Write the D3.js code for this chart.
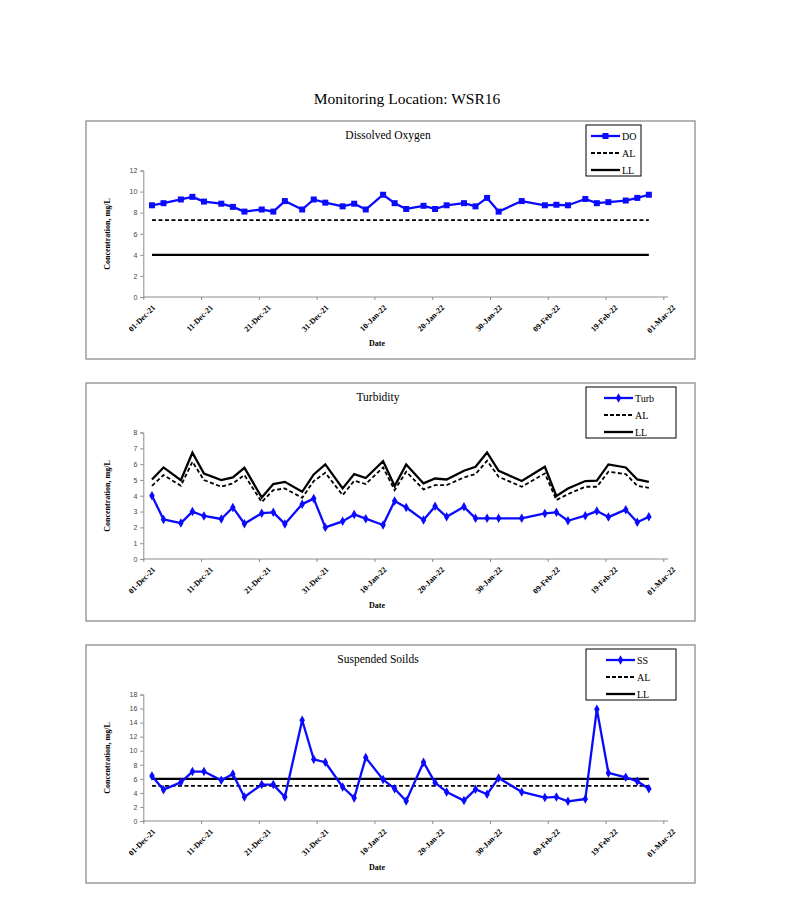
<!DOCTYPE html>
<html>
<head>
<meta charset="utf-8">
<script src="https://cdn.jsdelivr.net/npm/d3@7"></script>
<style>
  body { margin: 0; background: #fff; }
  svg { display: block; }
</style>
</head>
<body>
<svg id="chart" width="794" height="906"></svg>
<script>
// sampling dates (Tue/Thu/Sat schedule)
var dates = ["2021-12-02","2021-12-04","2021-12-07","2021-12-09","2021-12-11","2021-12-14","2021-12-16",
  "2021-12-18","2021-12-21","2021-12-23","2021-12-25","2021-12-28","2021-12-30","2022-01-01",
  "2022-01-04","2022-01-06","2022-01-08","2022-01-11","2022-01-13","2022-01-15","2022-01-18",
  "2022-01-20","2022-01-22","2022-01-25","2022-01-27","2022-01-29","2022-01-31","2022-02-04",
  "2022-02-08","2022-02-10","2022-02-12","2022-02-15","2022-02-17","2022-02-19","2022-02-22",
  "2022-02-24","2022-02-26"];

var doValues = [8.7,8.9,9.25,9.5,9.05,8.85,8.55,8.1,8.3,8.1,9.1,8.3,9.25,8.95,8.6,8.85,8.3,9.7,8.9,
  8.35,8.65,8.35,8.7,8.9,8.6,9.4,8.1,9.1,8.7,8.75,8.7,9.3,8.9,9.0,9.15,9.4,9.7];
var doAL = 7.3;
var doLL = 4;

var turbValues = [4.0,2.5,2.27,3.0,2.72,2.53,3.26,2.23,2.9,2.95,2.22,3.47,3.82,2.0,2.38,2.82,2.55,2.15,3.67,
  3.26,2.46,3.33,2.67,3.3,2.57,2.57,2.57,2.57,2.88,2.95,2.42,2.74,3.03,2.65,3.12,2.32,2.67];
var turbAL = [4.63,5.31,4.63,6.15,4.99,4.57,4.78,5.31,3.6,4.36,4.46,3.87,4.93,5.45,4.04,4.95,4.74,5.79,4.36,
  5.52,4.4,4.67,4.67,5.16,5.37,6.21,5.2,4.57,5.41,3.73,4.1,4.57,4.57,5.52,5.37,4.63,4.5];
var turbLL = [5.03,5.79,4.99,6.72,5.41,4.99,5.16,5.77,3.89,4.74,4.88,4.25,5.35,5.98,4.46,5.37,5.12,6.19,4.61,
  5.98,4.78,5.09,5.03,5.58,5.83,6.74,5.58,4.93,5.83,3.98,4.46,4.93,4.95,5.98,5.79,5.03,4.88];

var ssValues = [6.4,4.46,5.5,7.03,7.03,5.8,6.7,3.42,5.18,5.18,3.42,14.34,8.78,8.36,4.84,3.28,9.02,5.89,4.6,
  2.85,8.36,5.46,4.13,2.9,4.51,3.8,6.13,4.13,3.33,3.42,2.8,3.13,15.9,6.84,6.22,5.65,4.6];
var ssAL = 5;
var ssLL = 6;

var yTicksDO = [0,2,4,6,8,10,12];
var yTicksTurb = [0,1,2,3,4,5,6,7,8];
var yTicksSS = [0,2,4,6,8,10,12,14,16,18];
var xTickDates = ["2021-12-01","2021-12-11","2021-12-21","2021-12-31","2022-01-10","2022-01-20",
  "2022-01-30","2022-02-09","2022-02-19","2022-03-01"];

var parse = d3.utcParse("%Y-%m-%d");
var fmt = d3.utcFormat("%d-%b-%y");
var svg = d3.select("#chart");
var BLUE = "#0a0aff";
var SERIF = "'Liberation Serif', 'DejaVu Serif', 'Times New Roman', serif";
var SANS = "'Liberation Sans', Arial, sans-serif";

svg.append("text")
  .attr("x", 407).attr("y", 104)
  .attr("text-anchor", "middle")
  .style("font-family", SERIF).style("font-size", "15.5px")
  .text("Monitoring Location: WSR16");

var x = d3.scaleUtc()
  .domain([parse("2021-12-01"), parse("2022-03-01")])
  .range([143.3, 663.3]);
// points sit at mid-day, like Excel's date axis
var px = function (d) { return x(d3.utcHour.offset(parse(d), 12)); };

function drawChart(top, title, titleX, name, marker, values, al, ll, yMax, yTicks, legendW, sampleX0) {
  var g = svg.append("g");
  var y = d3.scaleLinear().domain([0, yMax]).range([top + 176, top + 49.5]);

  g.append("rect")
    .attr("x", 86).attr("y", top).attr("width", 609).attr("height", 238)
    .attr("fill", "none").attr("stroke", "#8c8c8c").attr("stroke-width", 1.3);

  g.append("text")
    .attr("x", titleX).attr("y", top + 18)
    .attr("text-anchor", "middle")
    .style("font-family", SERIF).style("font-size", "11.5px")
    .text(title);

  // y axis
  var ya = g.append("g")
    .attr("transform", "translate(143.3,0)")
    .call(d3.axisLeft(y).tickValues(yTicks).tickSize(3).tickPadding(3));
  ya.select(".domain").attr("stroke", "#8c8c8c");
  ya.selectAll(".tick line").attr("stroke", "#8c8c8c");
  ya.selectAll(".tick text")
    .style("font-family", SANS).style("font-size", "7px").attr("fill", "#444");

  // x axis
  var xa = g.append("g")
    .attr("transform", "translate(0," + (top + 176) + ")")
    .call(d3.axisBottom(x).tickValues(xTickDates.map(parse)).tickFormat(fmt).tickSize(3).tickSizeOuter(0));
  xa.select(".domain").attr("stroke", "#8c8c8c").attr("d", "M143.3,0H668");
  xa.selectAll(".tick line").attr("stroke", "#8c8c8c");
  xa.selectAll(".tick text")
    .attr("text-anchor", "end")
    .attr("transform", "translate(5,4) rotate(-45)")
    .attr("dy", "0.5em")
    .style("font-family", SERIF).style("font-size", "8px").style("font-weight", "bold")
    .attr("fill", "#000");

  g.append("text")
    .attr("transform", "translate(110," + (top + 113) + ") rotate(-90)")
    .attr("text-anchor", "middle")
    .style("font-family", SERIF).style("font-size", "8px").style("font-weight", "bold")
    .text("Concentration, mg/L");

  g.append("text")
    .attr("x", 377).attr("y", top + 225)
    .attr("text-anchor", "middle")
    .style("font-family", SERIF).style("font-size", "8px").style("font-weight", "bold")
    .text("Date");

  var alArr = Array.isArray(al) ? al : dates.map(function () { return al; });
  var llArr = Array.isArray(ll) ? ll : dates.map(function () { return ll; });
  var line = function (arr) {
    return d3.line().x(function (d, i) { return px(dates[i]); }).y(function (d) { return y(d); })(arr);
  };

  g.append("path").attr("d", line(llArr)).attr("fill", "none").attr("stroke", "#000").attr("stroke-width", 2.3);
  g.append("path").attr("d", line(alArr)).attr("fill", "none").attr("stroke", "#000")
    .attr("stroke-width", 1.8).attr("stroke-dasharray", "4,2.5");
  g.append("path").attr("d", line(values)).attr("fill", "none").attr("stroke", BLUE)
    .attr("stroke-width", 2.3).attr("stroke-linejoin", "round");

  var sym = marker === "square" ? d3.symbol(d3.symbolSquare, 36) : d3.symbol(d3.symbolDiamond, 26);
  g.selectAll(".pt").data(values).enter().append("path")
    .attr("d", sym)
    .attr("transform", function (d, i) { return "translate(" + px(dates[i]) + "," + y(d) + ")"; })
    .attr("fill", BLUE);

  // legend
  var lx = 586, ly = top + 4;
  g.append("rect").attr("x", lx).attr("y", ly).attr("width", legendW).attr("height", 51)
    .attr("fill", "#fff").attr("stroke", "#000").attr("stroke-width", 1);
  var items = [{ t: name, dash: null, c: BLUE, w: 2.3 }, { t: "AL", dash: "4,2", c: "#000", w: 1.8 }, { t: "LL", dash: null, c: "#000", w: 2.3 }];
  items.forEach(function (it, i) {
    var yy = ly + 11 + i * 17;
    g.append("line").attr("x1", sampleX0).attr("x2", sampleX0 + 29).attr("y1", yy).attr("y2", yy)
      .attr("stroke", it.c).attr("stroke-width", it.w).attr("stroke-dasharray", it.dash);
    if (i === 0) {
      g.append("path").attr("d", sym).attr("transform", "translate(" + (sampleX0 + 14.5) + "," + yy + ")").attr("fill", BLUE);
    }
    g.append("text").attr("x", sampleX0 + 31).attr("y", yy + 3.5)
      .style("font-family", SERIF).style("font-size", "10px")
      .text(it.t);
  });
}

drawChart(121, "Dissolved Oxygen", 388, "DO", "square", doValues, doAL, doLL, 12, yTicksDO, 55, 591);
drawChart(383, "Turbidity", 378, "Turb", "diamond", turbValues, turbAL, turbLL, 8, yTicksTurb, 90, 604);
drawChart(645, "Suspended Soilds", 378, "SS", "diamond", ssValues, ssAL, ssLL, 18, yTicksSS, 90, 606);
</script>
</body>
</html>
